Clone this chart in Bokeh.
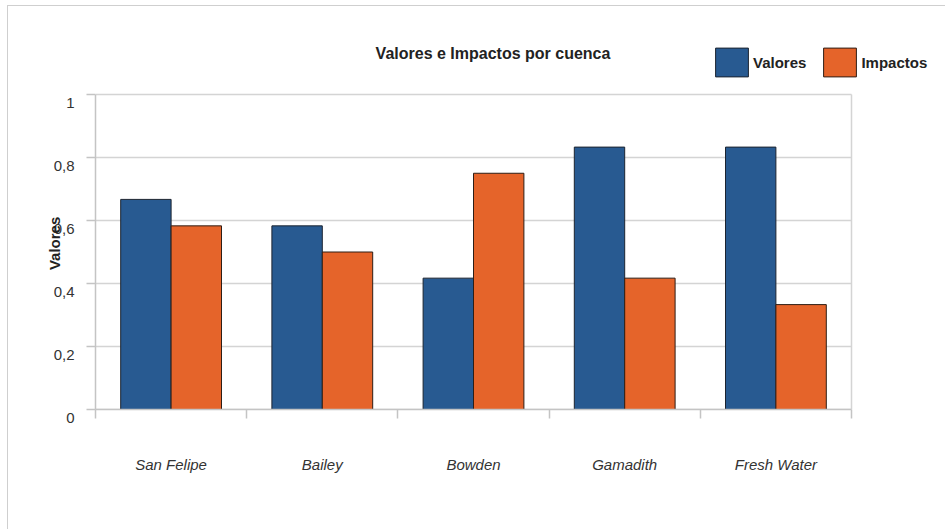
import math
from bokeh.plotting import figure
from bokeh.models import (ColumnDataSource, Range1d, FixedTicker, Label,
                          Legend, LegendItem)
from bokeh.transform import dodge
from bokeh.embed import file_html
from bokeh.resources import INLINE

# Data
cuencas = ["San Felipe", "Bailey", "Bowden", "Gamadith", "Fresh Water"]
valores = [0.667, 0.583, 0.417, 0.833, 0.833]
impactos = [0.583, 0.500, 0.750, 0.417, 0.333]
y_ticks = [0, 0.2, 0.4, 0.6, 0.8, 1.0]
y_tick_labels = ["0", "0,2", "0,4", "0,6", "0,8", "1"]

FONT = "Liberation Sans"
GRID = "#d4d4d4"
AXIS = "#c4c4c4"
TEXT = "#333333"
BLUE = "#285a91"
ORANGE = "#e5642a"

# Layout (pixels): the frame reaches the top and right edges so that the
# title and legend can sit inside it; the chart area itself is 756 x 315.
W, H = 937, 523
LEFT, BOTTOM = 87, 120
PX_PER_X = 756 / len(cuencas)
PX_PER_Y = 315 / 1.0
x_end = (W - LEFT) / PX_PER_X
y_end = (H - BOTTOM) / PX_PER_Y

n = len(cuencas)
centers = [i + 0.5 for i in range(n)]
source = ColumnDataSource(dict(x=centers, cuenca=cuencas,
                               valores=valores, impactos=impactos))

p = figure(width=W, height=H, title=None, output_backend="svg",
           toolbar_location=None,
           x_range=Range1d(0, x_end), y_range=Range1d(0, y_end),
           min_border_left=LEFT, min_border_right=0,
           min_border_top=0, min_border_bottom=BOTTOM,
           margin=(6, 0, 0, 8))
p.styles = {"outline": "1px solid #cfcfcf"}
p.background_fill_color = "white"
p.border_fill_color = "white"
p.outline_line_color = None
p.xgrid.visible = False
p.ygrid.visible = False

# Horizontal grid lines and the right-hand border of the chart area
p.segment(x0=0, x1=n, y0=y_ticks, y1=y_ticks, line_color=GRID, line_width=1.5)
p.segment(x0=n, x1=n, y0=0, y1=max(y_ticks), line_color=GRID, line_width=1.5)

bw = 1 / 3
r_val = p.vbar(x=dodge("x", -bw / 2), top="valores", width=bw, source=source,
               fill_color=BLUE, line_color="#1c2430", line_width=1)
r_imp = p.vbar(x=dodge("x", bw / 2), top="impactos", width=bw, source=source,
               fill_color=ORANGE, line_color="#2e1e16", line_width=1)

# X axis: labels at group centres, tick marks between groups
xa = p.xaxis[0]
xa.bounds = (0, n)
xa.ticker = FixedTicker(ticks=centers, minor_ticks=list(range(n + 1)))
xa.major_label_overrides = {c: s for c, s in zip(centers, cuencas)}
xa.major_tick_line_color = None
xa.major_tick_out = 0
xa.major_tick_in = 0
xa.minor_tick_line_color = AXIS
xa.minor_tick_line_width = 1.5
xa.minor_tick_out = 9
xa.minor_tick_in = 0
xa.axis_line_color = AXIS
xa.axis_line_width = 1.5
xa.major_label_standoff = 37
xa.major_label_text_font = FONT
xa.major_label_text_font_size = "15px"
xa.major_label_text_font_style = "italic"
xa.major_label_text_color = TEXT

# Y axis (labels sit just below their tick)
ya = p.yaxis[0]
ya.bounds = (0, 1)
ya.ticker = FixedTicker(ticks=y_ticks)
ya.major_label_overrides = {t: "\n" + s for t, s in zip(y_ticks, y_tick_labels)}
ya.major_label_text_line_height = 0.9
ya.major_tick_line_color = AXIS
ya.major_tick_line_width = 1.5
ya.major_tick_out = 9
ya.major_tick_in = 0
ya.minor_tick_line_color = None
ya.axis_line_color = AXIS
ya.axis_line_width = 1.5
ya.major_label_standoff = 12
ya.major_label_text_font = FONT
ya.major_label_text_font_size = "15px"
ya.major_label_text_color = TEXT
# the axis title is centred on the whole frame; trailing no-break spaces
# move the visible word down to the middle of the 0..1 scale
ya.axis_label = "Valores" + "\u00a0" * 17
ya.axis_label_standoff = -12
ya.axis_label_text_font = FONT
ya.axis_label_text_font_size = "15px"
ya.axis_label_text_font_style = "bold"
ya.axis_label_text_color = "#222222"

# Title
p.add_layout(Label(x=2.629, y=1.1286, text="Valores e Impactos por cuenca",
                   text_align="center", text_baseline="middle",
                   text_font=FONT, text_font_size="16px",
                   text_font_style="bold", text_color="#222222"))

# Legend
legend = Legend(items=[LegendItem(label="Valores", renderers=[r_val]),
                       LegendItem(label="Impactos", renderers=[r_imp])],
                location=(616, 329), orientation="horizontal",
                glyph_width=41, glyph_height=36, label_standoff=1,
                spacing=13, padding=0, margin=0,
                border_line_color=None, background_fill_alpha=0,
                label_text_font=FONT, label_text_font_size="15px",
                label_text_font_style="bold", label_text_color="#222222")
p.add_layout(legend)

open("out.html", "w").write(file_html(p, INLINE))
